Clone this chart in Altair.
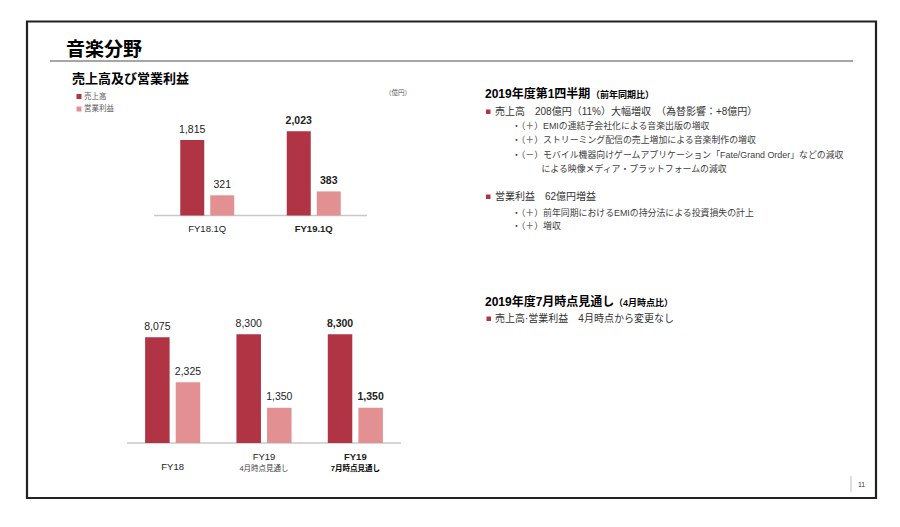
import altair as alt
import pandas as pd

# ---------------- data ----------------
q_periods = ["FY18.1Q", "FY19.1Q"]
q_sales = [1815, 2023]
q_op = [321, 383]
q_bold = [False, True]

y_periods = ["FY18", "FY19 4月", "FY19 7月"]
y_line1 = ["FY18", "FY19", "FY19"]
y_line2 = ["", "4月時点見通し", "7月時点見通し"]
y_sales = [8075, 8300, 8300]
y_op = [2325, 1350, 1350]
y_bold = [False, False, True]

series_names = ["売上高", "営業利益"]

# ---------------- styles ----------------
OX, OY = 8, 8
FONT = "Liberation Sans, Noto Sans CJK JP, sans-serif"
JP = "Noto Sans CJK JP, sans-serif"
C_SALES = "#B03444"
C_OP = "#E39092"
C_TXT = "#222222"

ONE = pd.DataFrame({"a": [0]})


def txt(s, x, y, size, weight="normal", color=C_TXT, align="left", font=FONT):
    return alt.Chart(ONE).mark_text(
        text=s, fontSize=size, fontWeight=weight, color=color, align=align,
        baseline="middle", font=font
    ).encode(x=alt.value(x - OX), y=alt.value(y - OY))


def box(x1, x2, y1, y2, fill, stroke=None, sw=0):
    kw = dict(fill=fill)
    if stroke:
        kw.update(stroke=stroke, strokeWidth=sw)
    return alt.Chart(ONE).mark_rect(**kw).encode(
        x=alt.value(x1 - OX), x2=alt.value(x2 - OX),
        y=alt.value(y1 - OY), y2=alt.value(y2 - OY))


def hrule(x1, x2, y, color, sw):
    return alt.Chart(ONE).mark_rule(color=color, strokeWidth=sw).encode(
        x=alt.value(x1 - OX), x2=alt.value(x2 - OX), y=alt.value(y - OY))


def vrule(x, y1, y2, color, sw):
    return alt.Chart(ONE).mark_rule(color=color, strokeWidth=sw).encode(
        x=alt.value(x - OX), y=alt.value(y1 - OY), y2=alt.value(y2 - OY))


layers = []

# frame, title
layers.append(box(27, 876, 21.5, 498, "transparent", "#222222", 2.2))
layers.append(txt("音楽分野", 66, 50, 19, "bold", "#000", font=JP))
layers.append(hrule(50, 853, 61, "#A6A6A6", 2))
layers.append(txt("売上高及び営業利益", 72, 79, 13, "bold", "#000", font=JP))

# legend
layers.append(box(76.5, 81.5, 94, 99, C_SALES))
layers.append(txt(series_names[0], 84, 96.5, 7.5, color="#595959", font=JP))
layers.append(box(76.5, 81.5, 106.5, 111.5, C_OP))
layers.append(txt(series_names[1], 84, 109, 7.5, color="#595959", font=JP))
layers.append(txt("（億円）", 398, 93, 6.5, color="#595959", align="center", font=JP))

# ---------------- quarterly chart ----------------
qdf = pd.DataFrame({"period": q_periods, "sales": q_sales, "op": q_op, "bold": q_bold})
QB = 215.5
xq = alt.X("period:N", axis=None,
           scale=alt.Scale(domain=q_periods, range=[154 - OX, 367 - OX], paddingInner=0, paddingOuter=0))
yq_s = alt.Y("sales:Q", axis=None,
             scale=alt.Scale(domain=[0, 2400], range=[QB - OY, QB - OY - 2400 / 24.0], nice=False, zero=True))
yq_o = alt.Y("op:Q", axis=None,
             scale=alt.Scale(domain=[0, 400], range=[QB - OY, QB - OY - 400 / 15.9], nice=False, zero=True))

layers.append(hrule(154, 367, QB, "#C8C8C8", 1.5))
qbase = alt.Chart(qdf)
layers.append(qbase.mark_bar(size=24, xOffset=-15, color=C_SALES).encode(x=xq, y=yq_s))
layers.append(qbase.mark_bar(size=24, xOffset=15, color=C_OP).encode(x=xq, y=yq_o))
for flag, wt in [(False, "normal"), (True, "bold")]:
    f = "datum.bold" if flag else "!datum.bold"
    layers.append(qbase.transform_filter(f).mark_text(
        dx=-15, dy=-10, fontSize=10.5, fontWeight=wt, font=FONT, color=C_TXT, baseline="middle"
    ).encode(x=xq, y=yq_s, text=alt.Text("sales:Q", format=",")))
    layers.append(qbase.transform_filter(f).mark_text(
        dx=15, dy=-10, fontSize=10.5, fontWeight=wt, font=FONT, color=C_TXT, baseline="middle"
    ).encode(x=xq, y=yq_o, text=alt.Text("op:Q", format=",")))
    layers.append(qbase.transform_filter(f).mark_text(
        fontSize=9.5, fontWeight=wt, font=FONT, color=C_TXT, baseline="middle"
    ).encode(x=xq, y=alt.value(229 - OY), text="period:N"))

# ---------------- annual chart ----------------
ydf = pd.DataFrame({"period": y_periods, "line1": y_line1, "line2": y_line2,
                    "sales": y_sales, "op": y_op, "bold": y_bold})
YB = 443
xy = alt.X("period:N", axis=None,
           scale=alt.Scale(domain=y_periods, range=[127 - OX, 401 - OX], paddingInner=0, paddingOuter=0))
yy_s = alt.Y("sales:Q", axis=None,
             scale=alt.Scale(domain=[0, 9000], range=[YB - OY, YB - OY - 9000 / 76.4], nice=False, zero=True))
yy_o = alt.Y("op:Q", axis=None,
             scale=alt.Scale(domain=[0, 3000], range=[YB - OY, YB - OY - 3000 / 38.3], nice=False, zero=True))

layers.append(hrule(127, 401, YB, "#C8C8C8", 1.5))
ybase = alt.Chart(ydf)
layers.append(ybase.mark_bar(size=24.5, xOffset=-15.3, color=C_SALES).encode(x=xy, y=yy_s))
layers.append(ybase.mark_bar(size=24.5, xOffset=15.3, color=C_OP).encode(x=xy, y=yy_o))
for flag, wt in [(False, "normal"), (True, "bold")]:
    f = "datum.bold" if flag else "!datum.bold"
    layers.append(ybase.transform_filter(f).mark_text(
        dx=-15.3, dy=-10.5, fontSize=10.5, fontWeight=wt, font=FONT, color=C_TXT, baseline="middle"
    ).encode(x=xy, y=yy_s, text=alt.Text("sales:Q", format=",")))
    layers.append(ybase.transform_filter(f).mark_text(
        dx=15.3, dy=-10.5, fontSize=10.5, fontWeight=wt, font=FONT, color=C_TXT, baseline="middle"
    ).encode(x=xy, y=yy_o, text=alt.Text("op:Q", format=",")))
    # labels with a sub-line
    layers.append(ybase.transform_filter(f + " && datum.line2 != ''").mark_text(
        fontSize=9.5, fontWeight=wt, font=FONT, color=C_TXT, baseline="middle"
    ).encode(x=xy, y=alt.value(457 - OY), text="line1:N"))
    layers.append(ybase.transform_filter(f + " && datum.line2 != ''").mark_text(
        fontSize=7.5, fontWeight=wt, font=FONT, color=("#000" if flag else "#404040"), baseline="middle"
    ).encode(x=xy, y=alt.value(469 - OY), text="line2:N"))
    # single-line labels
    layers.append(ybase.transform_filter(f + " && datum.line2 == ''").mark_text(
        fontSize=9.5, fontWeight=wt, font=FONT, color=C_TXT, baseline="middle"
    ).encode(x=xy, y=alt.value(467 - OY), text="line1:N"))

# ---------------- right-hand commentary ----------------
SUB = 8.9
layers.append(txt("2019年度第1四半期", 485, 94, 12, "bold", "#000"))
layers.append(txt("（前年同期比）", 591, 95, 9, "bold", "#000"))
layers.append(box(486, 490.5, 109.5, 114, C_SALES))
layers.append(txt("売上高　208億円（11%）大幅増収　（為替影響：+8億円）", 495, 112, 10, color="#333"))
layers.append(txt("・（＋）EMIの連結子会社化による音楽出版の増収", 512, 125.5, SUB, color="#404040"))
layers.append(txt("・（＋）ストリーミング配信の売上増加による音楽制作の増収", 512, 140, SUB, color="#404040"))
layers.append(txt("・（－）モバイル機器向けゲームアプリケーション「Fate/Grand Order」などの減収", 512, 154.5, SUB, color="#404040"))
layers.append(txt("による映像メディア・プラットフォームの減収", 541.5, 168.5, SUB, color="#404040"))
layers.append(box(486, 490.5, 194.5, 199, C_SALES))
layers.append(txt("営業利益　62億円増益", 495, 197, 10, color="#333"))
layers.append(txt("・（＋）前年同期におけるEMIの持分法による投資損失の計上", 512, 212.5, SUB, color="#404040"))
layers.append(txt("・（＋）増収", 512, 226, SUB, color="#404040"))

layers.append(txt("2019年度7月時点見通し", 485, 301.5, 12, "bold", "#000"))
layers.append(txt("（4月時点比）", 614, 302.5, 9, "bold", "#000"))
layers.append(box(486.5, 491, 316.5, 321, C_SALES))
layers.append(txt("売上高·営業利益　4月時点から変更なし", 495, 319, 10, color="#333"))

# page number
layers.append(vrule(851, 476, 492, "#BFBFBF", 1))
layers.append(txt("11", 858, 485, 7, color="#404040"))

chart = alt.layer(*layers).resolve_scale(x="independent", y="independent").properties(
    width=884, height=511, padding=0, autosize=alt.AutoSizeParams(type="none"),
    background="white"
).configure_view(stroke=None)

chart.save("out.html", embed_options={"renderer": "svg", "actions": False})
